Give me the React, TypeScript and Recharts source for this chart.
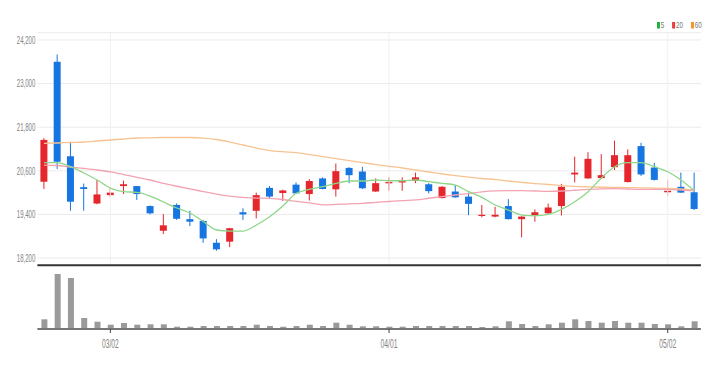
import React from 'react';
import { ComposedChart, Bar, Line, XAxis, YAxis, CartesianGrid, ReferenceLine } from 'recharts';

// daily candles, 2022-02-22 .. 2022-05-04
const dates = [
  '02/22', '02/23', '02/24', '02/25', '02/28', '03/02', '03/03', '03/04', '03/07', '03/08',
  '03/10', '03/11', '03/14', '03/15', '03/16', '03/17', '03/18', '03/21', '03/22', '03/23',
  '03/24', '03/25', '03/28', '03/29', '03/30', '03/31', '04/01', '04/04', '04/05', '04/06',
  '04/07', '04/08', '04/11', '04/12', '04/13', '04/14', '04/15', '04/18', '04/19', '04/20',
  '04/21', '04/22', '04/25', '04/26', '04/27', '04/28', '04/29', '05/02', '05/03', '05/04',
];

const opens = [
  20300, 23600, 21000, 20150, 19700, 19930, 20180, 20180, 19630, 18950,
  19660, 19270, 19220, 18620, 18650, 19460, 19500, 20130, 19990, 20220,
  19960, 20390, 20090, 20680, 20580, 20030, 20255, 20280, 20320, 20230,
  19850, 20030, 19890, 19360, 19340, 19630, 19270, 19380, 19430, 19630,
  20500, 20390, 20400, 20700, 20290, 21280, 20690, 20010, 20160, 20010,
];
const highs = [
  21500, 23800, 21400, 20250, 20350, 20120, 20330, 20180, 19650, 19410,
  19700, 19500, 19250, 18720, 19030, 19570, 20000, 20180, 20080, 20280,
  20370, 20420, 20800, 20700, 20710, 20390, 20420, 20420, 20550, 20260,
  20180, 20210, 20000, 19660, 19610, 19820, 19350, 19540, 19700, 20240,
  20990, 21110, 21060, 21430, 21190, 21370, 20820, 20350, 20550, 20550,
];
const lows = [
  20100, 20650, 19500, 19500, 19680, 19870, 19960, 19800, 19400, 18860,
  19250, 19080, 18620, 18400, 18500, 19250, 19290, 19820, 19770, 19970,
  19780, 20090, 19890, 20260, 20100, 20020, 20050, 20050, 20260, 19980,
  19840, 19860, 19380, 19320, 19320, 19260, 18770, 19200, 19420, 19370,
  20280, 20380, 20380, 20620, 20280, 20460, 20330, 19910, 19990, 19520,
];
const closes = [
  21450, 20850, 19750, 20100, 19950, 20000, 20230, 19960, 19430, 19100,
  19280, 19200, 18740, 18440, 19020, 19400, 19930, 19890, 20060, 19980,
  20320, 20100, 20590, 20480, 20120, 20260, 20290, 20320, 20420, 20040,
  20160, 19870, 19690, 19390, 19390, 19270, 19340, 19460, 19590, 20160,
  20550, 20930, 20480, 21030, 21030, 20500, 20350, 20050, 20000, 19550,
];
const volumes = [
  970000, 5500000, 5100000, 1100000, 730000, 430000, 600000, 430000, 470000, 470000,
  230000, 230000, 300000, 300000, 300000, 300000, 430000, 300000, 230000, 300000,
  430000, 300000, 630000, 430000, 270000, 270000, 230000, 230000, 300000, 300000,
  300000, 300000, 300000, 200000, 270000, 770000, 500000, 300000, 470000, 630000,
  970000, 800000, 630000, 800000, 630000, 630000, 500000, 470000, 270000, 770000,
];

const ma5 = [
  20823, 20823, 20713, 20539, 20347, 20126, 20025, 20008, 19906, 19741,
  19576, 19438, 19204, 18971, 18943, 18943, 19108, 19337, 19631, 19981,
  20091, 20162, 20256, 20319, 20319, 20347, 20327, 20327, 20347, 20300,
  20256, 20209, 20025, 19870, 19659, 19521, 19383, 19364, 19403, 19540,
  19749, 20025, 20402, 20713, 20823, 20823, 20713, 20575, 20347, 20052,
];
const ma20 = [
  20759, 20746, 20700, 20663, 20622, 20570, 20498, 20420, 20347, 20256,
  20175, 20100, 20030, 19960, 19905, 19870, 19851, 19840, 19810, 19760,
  19715, 19665, 19675, 19690, 19705, 19730, 19755, 19780, 19800, 19845,
  19892, 19934, 19975, 20020, 20048, 20055, 20052, 20044, 20035, 20044,
  20065, 20090, 20105, 20110, 20100, 20091, 20091, 20088, 20071, 20052,
];
const ma60 = [
  21357, 21365, 21379, 21392, 21420, 21447, 21475, 21502, 21508, 21516,
  21516, 21516, 21502, 21461, 21392, 21310, 21227, 21158, 21125, 21103,
  21048, 20993, 20938, 20883, 20828, 20773, 20724, 20677, 20622, 20567,
  20512, 20470, 20429, 20388, 20360, 20319, 20283, 20250, 20223, 20195,
  20173, 20159, 20148, 20143, 20137, 20132, 20126, 20118, 20099, 20071,
];

const priceTicks = [18200, 19400, 20600, 21800, 23000, 24200];
const monthTicks = ['03/02', '04/01', '05/02'];
const legendItems = [
  { label: '5', color: '#22b33a' },
  { label: '20', color: '#e83a3f' },
  { label: '60', color: '#f5962a' },
];

const UP = '#e5262d';
const DOWN = '#1675e0';
const FONT = '"Liberation Sans", Arial, sans-serif';

const rows = dates.map((date, i) => ({
  date,
  open: opens[i],
  high: highs[i],
  low: lows[i],
  close: closes[i],
  volume: volumes[i],
  ma5: ma5[i],
  ma20: ma20[i],
  ma60: ma60[i],
}));

const fmt = (v: number) => String(v).replace(/\B(?=(\d{3})+(?!\d))/g, ',');

function Candle(props: any) {
  const { x, y, width, height, payload } = props;
  if (!payload) return null;
  const { open, close, high, low } = payload;
  const top = Math.min(y, y + height);
  const h = Math.abs(height);
  const per = high === low ? 0 : h / (high - low);
  const yOf = (v: number) => top + (high - v) * per;
  const color = close >= open ? UP : DOWN;
  const bodyTop = Math.min(yOf(open), yOf(close));
  const bodyH = Math.max(1.2, Math.abs(yOf(open) - yOf(close)));
  const cx = x + width / 2;
  return (
    <g>
      <line x1={cx} x2={cx} y1={top} y2={top + h} stroke={color} strokeWidth={1} />
      <rect x={x} y={bodyTop} width={width} height={bodyH} fill={color} />
    </g>
  );
}

function PriceTick(props: any) {
  const { x, y, payload } = props;
  return (
    <g transform={`translate(${x},${y}) scale(0.58,1)`}>
      <text x={0} y={0} dy={3.8} textAnchor="end" fontSize={10.5} fill="#838383" fontFamily={FONT}>
        {fmt(payload.value)}
      </text>
    </g>
  );
}

function DateTick(props: any) {
  const { x, y, payload } = props;
  return (
    <g transform={`translate(${x},${y}) scale(0.54,1)`}>
      <text x={0} y={0} dy={13} textAnchor="middle" fontSize={12.5} fill="#838383" fontFamily={FONT}>
        {payload.value}
      </text>
    </g>
  );
}

function MaLegend() {
  let cx = 0;
  return (
    <svg width={50} height={12} style={{ position: 'absolute', left: 656, top: 19 }}>
      {legendItems.map((it) => {
        const x0 = cx;
        cx += 6 + it.label.length * 3.8 + 5.3;
        return (
          <g key={it.label}>
            <rect x={x0 + 1} y={3} width={3} height={6.5} fill={it.color} />
            <g transform={`translate(${x0 + 4.8},9.3) scale(0.7,1)`}>
              <text x={0} y={0} fontSize={9} fill="#777777" fontFamily={FONT}>{it.label}</text>
            </g>
          </g>
        );
      })}
    </svg>
  );
}

export default function App() {
  return (
    <div style={{ position: 'absolute', left: 0, top: 0, width: 715, height: 369, background: '#fff', overflow: 'hidden' }}>
      <div style={{ position: 'absolute', left: 0, top: 0 }}>
        <ComposedChart width={715} height={268} data={rows} margin={{ top: 32.7, right: 14.1, bottom: 0, left: 0 }}>
          <CartesianGrid vertical={false} stroke="#ebebeb" />
          {monthTicks.map((d) => (
            <ReferenceLine key={d} x={d} stroke="#f0f0f0" />
          ))}
          <XAxis
            dataKey="date"
            height={2.7}
            tick={false}
            tickLine={false}
            axisLine={{ stroke: '#333333', strokeWidth: 2 }}
          />
          <YAxis
            type="number"
            domain={[18000, 24400]}
            ticks={priceTicks}
            width={37.4}
            axisLine={false}
            tickLine={false}
            tickSize={0}
            tickMargin={2}
            tick={<PriceTick />}
          />
          <Line dataKey="ma60" type="monotone" stroke="#f7c392" strokeWidth={1.3} dot={false} activeDot={false} isAnimationActive={false} />
          <Line dataKey="ma20" type="monotone" stroke="#f3a3b0" strokeWidth={1.3} dot={false} activeDot={false} isAnimationActive={false} />
          <Line dataKey="ma5" type="monotone" stroke="#8fd68a" strokeWidth={1.3} dot={false} activeDot={false} isAnimationActive={false} />
          <Bar dataKey={(d: any) => [d.low, d.high]} barSize={7} shape={<Candle />} isAnimationActive={false} />
        </ComposedChart>
      </div>
      <div style={{ position: 'absolute', left: 0, top: 266 }}>
        <ComposedChart width={715} height={103} data={rows} margin={{ top: 2, right: 14.1, bottom: 0, left: 37.4 }}>
          <XAxis
            dataKey="date"
            ticks={monthTicks}
            interval={0}
            height={40}
            tickSize={4}
            tickMargin={2}
            tickLine={{ stroke: '#444444' }}
            axisLine={{ stroke: '#777777', strokeWidth: 2 }}
            tick={<DateTick />}
          />
          <YAxis hide type="number" domain={[0, 6100000]} />
          <Bar dataKey="volume" barSize={6} fill="#9a9a9a" isAnimationActive={false} />
        </ComposedChart>
      </div>
      <MaLegend />
    </div>
  );
}
